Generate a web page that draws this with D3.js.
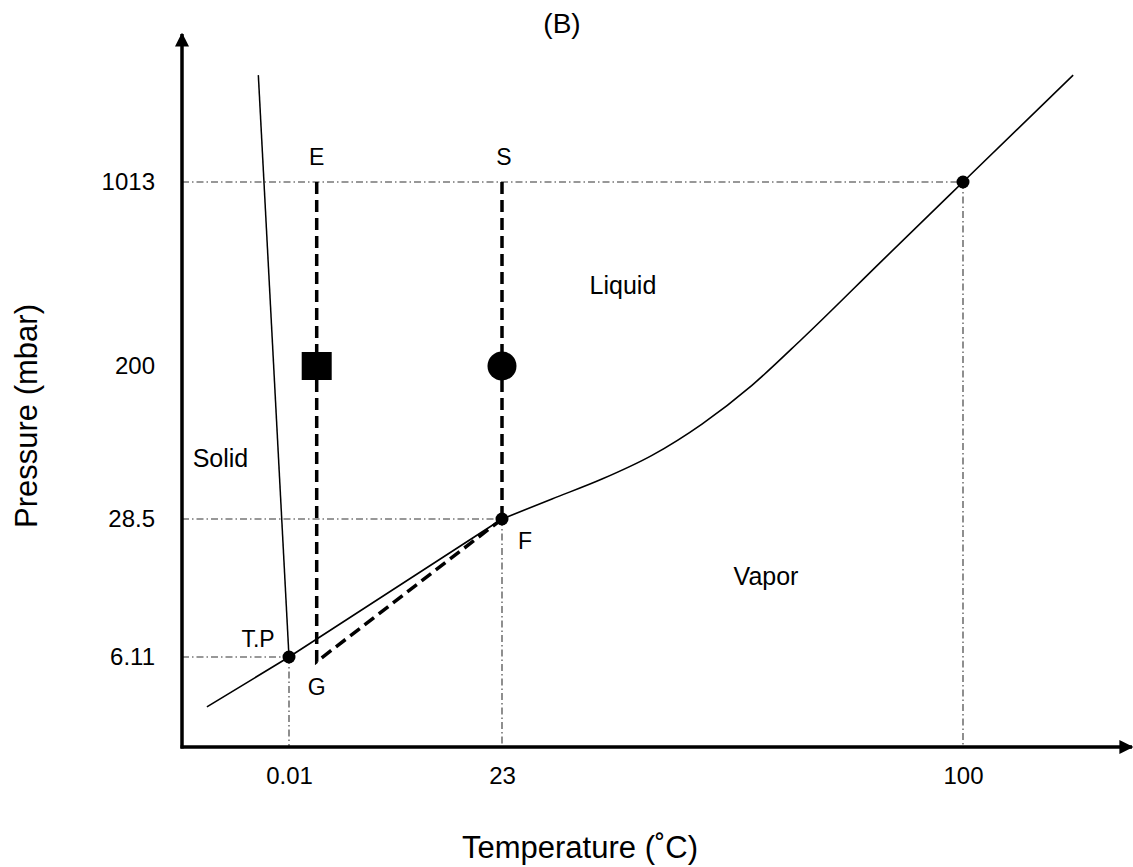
<!DOCTYPE html>
<html>
<head>
<meta charset="utf-8">
<script src="https://cdn.jsdelivr.net/npm/d3@7"></script>
<style>
  html, body { margin: 0; padding: 0; background: #fff; }
  svg { display: block; font-family: "Liberation Sans", Arial, sans-serif; }
</style>
</head>
<body>
<svg id="chart" width="1133" height="867"></svg>
<script>
// ---------------- data ----------------
const tempTicks = [0.01, 23, 100];
const tempTickLabels = ["0.01", "23", "100"];
const presTicks = [6.11, 28.5, 200, 1013];
const presTickLabels = ["6.11", "28.5", "200", "1013"];

// [temperature °C, pressure mbar]
const fusionLine = [[-3.3, 2600], [0.01, 6.11]];
const sublimationLine = [[-8.85, 3.5], [0.01, 6.11], [23, 28.5]];
const vaporCurve = [[23, 28.5], [31.35, 36.8], [39.7, 47.4], [48.05, 64.1], [56.4, 95.5],
                    [64.75, 156.4], [73.1, 253.8], [86.5, 506.6], [100, 1013], [118.4, 2600]];
const keyPoints = [[0.01, 6.11], [23, 28.5], [100, 1013]];
const pathE = [[3, 1013], [3, 5.8], [23, 28.5]];
const pathS = [[23, 1013], [23, 28.5]];
const squareMarker = [[3, 200]];
const circleMarker = [[23, 200]];
const pointLabels = ["E", "S", "G", "F", "T.P"];
const pointLabelAnchors = [[3, 1013], [23, 1013], [3, 5.8], [23, 28.5], [0.01, 6.11]];
const regionLabels = ["Liquid", "Solid", "Vapor"];
const regionLabelAnchors = [[43.2, 378], [-7.39, 55.3], [67.1, 13.6]];
const panelTitle = "(B)";
const xTitle = "Temperature (˚C)";
const yTitle = "Pressure (mbar)";

// ---------------- layout ----------------
const svg = d3.select("#chart");
const axisX = 182, axisY = 747;
const x = d3.scaleLinear().domain(tempTicks).range([289, 502, 963]);
const y = d3.scaleLog().domain(presTicks).range([657, 519, 366, 182]);
const px = d => x(d[0]), py = d => y(d[1]);

// guide lines (dash-dot)
const guides = svg.append("g")
  .attr("stroke", "#333").attr("stroke-width", 1.1)
  .attr("stroke-dasharray", "7,3,1.5,3").attr("fill", "none");
keyPoints.forEach(d => {
  guides.append("line").attr("x1", axisX).attr("x2", px(d)).attr("y1", py(d)).attr("y2", py(d));
  guides.append("line").attr("x1", px(d)).attr("x2", px(d)).attr("y1", py(d)).attr("y2", axisY);
});

// phase boundaries
const lin = d3.line().x(px).y(py);
const smooth = d3.line().x(px).y(py).curve(d3.curveMonotoneX);
svg.append("path").attr("d", lin(fusionLine)).attr("fill", "none").attr("stroke", "#000").attr("stroke-width", 1.5);
svg.append("path").attr("d", lin(sublimationLine)).attr("fill", "none").attr("stroke", "#000").attr("stroke-width", 1.6);
svg.append("path").attr("d", smooth(vaporCurve)).attr("fill", "none").attr("stroke", "#000").attr("stroke-width", 1.6);

// process paths (thick dashed)
[pathE, pathS].forEach(p => {
  svg.append("path").attr("d", lin(p)).attr("fill", "none")
    .attr("stroke", "#000").attr("stroke-width", 3.5)
    .attr("stroke-dasharray", "12,6");
});

// markers
svg.selectAll(".sq").data(squareMarker).enter().append("rect")
  .attr("x", d => px(d) - 15).attr("y", d => py(d) - 14)
  .attr("width", 30).attr("height", 28).attr("fill", "#000");
svg.selectAll(".ci").data(circleMarker).enter().append("circle")
  .attr("cx", px).attr("cy", py).attr("r", 14.5).attr("fill", "#000");
svg.selectAll(".kp").data(keyPoints).enter().append("circle")
  .attr("cx", px).attr("cy", py).attr("r", 6.5).attr("fill", "#000");

// axes
const yAxis = d3.axisLeft(y).tickValues(presTicks)
  .tickFormat((d, i) => presTickLabels[i]).tickSize(0).tickPadding(27);
const gy = svg.append("g").attr("transform", `translate(${axisX},0)`).call(yAxis);
const xAxis = d3.axisBottom(x).tickValues(tempTicks)
  .tickFormat((d, i) => tempTickLabels[i]).tickSize(0).tickPadding(20);
const gx = svg.append("g").attr("transform", `translate(0,${axisY})`).call(xAxis);
[gx, gy].forEach(g => {
  g.select(".domain").remove();
  g.selectAll("text").attr("font-size", 24).attr("fill", "#000")
    .attr("font-family", "'Liberation Sans', Arial, sans-serif");
});

// axis lines with arrows
svg.append("defs").append("marker").attr("id", "arrow")
  .attr("viewBox", "0 0 10 10").attr("refX", 9).attr("refY", 5)
  .attr("markerWidth", 4).attr("markerHeight", 4).attr("markerUnits", "strokeWidth")
  .attr("orient", "auto")
  .append("path").attr("d", "M0,0 L10,5 L0,10 Z").attr("fill", "#000");
svg.append("line").attr("x1", axisX).attr("y1", axisY + 1.5).attr("x2", axisX).attr("y2", 34)
  .attr("stroke", "#000").attr("stroke-width", 3.5).attr("marker-end", "url(#arrow)");
svg.append("line").attr("x1", axisX - 1.5).attr("y1", axisY).attr("x2", 1132).attr("y2", axisY)
  .attr("stroke", "#000").attr("stroke-width", 3.5).attr("marker-end", "url(#arrow)");

// point labels
const labelOffsets = [[0, -17], [2, -17], [0, 33], [23, 30], [-31, -10]];
pointLabels.forEach((t, i) => {
  svg.append("text").attr("x", px(pointLabelAnchors[i]) + labelOffsets[i][0])
    .attr("y", py(pointLabelAnchors[i]) + labelOffsets[i][1])
    .attr("text-anchor", "middle").attr("font-size", 23).attr("fill", "#000").text(t);
});
regionLabels.forEach((t, i) => {
  svg.append("text").attr("x", px(regionLabelAnchors[i])).attr("y", py(regionLabelAnchors[i]))
    .attr("text-anchor", "middle").attr("font-size", 25).attr("fill", "#000").text(t);
});

// titles
svg.append("text").attr("x", 562).attr("y", 33).attr("text-anchor", "middle")
  .attr("font-size", 28).attr("fill", "#000").text(panelTitle);
svg.append("text").attr("x", 580).attr("y", 858).attr("text-anchor", "middle")
  .attr("font-size", 31).attr("fill", "#000").text(xTitle);
svg.append("text").attr("transform", "translate(37,416) rotate(-90)").attr("text-anchor", "middle")
  .attr("font-size", 31).attr("fill", "#000").text(yTitle);
</script>
</body>
</html>
